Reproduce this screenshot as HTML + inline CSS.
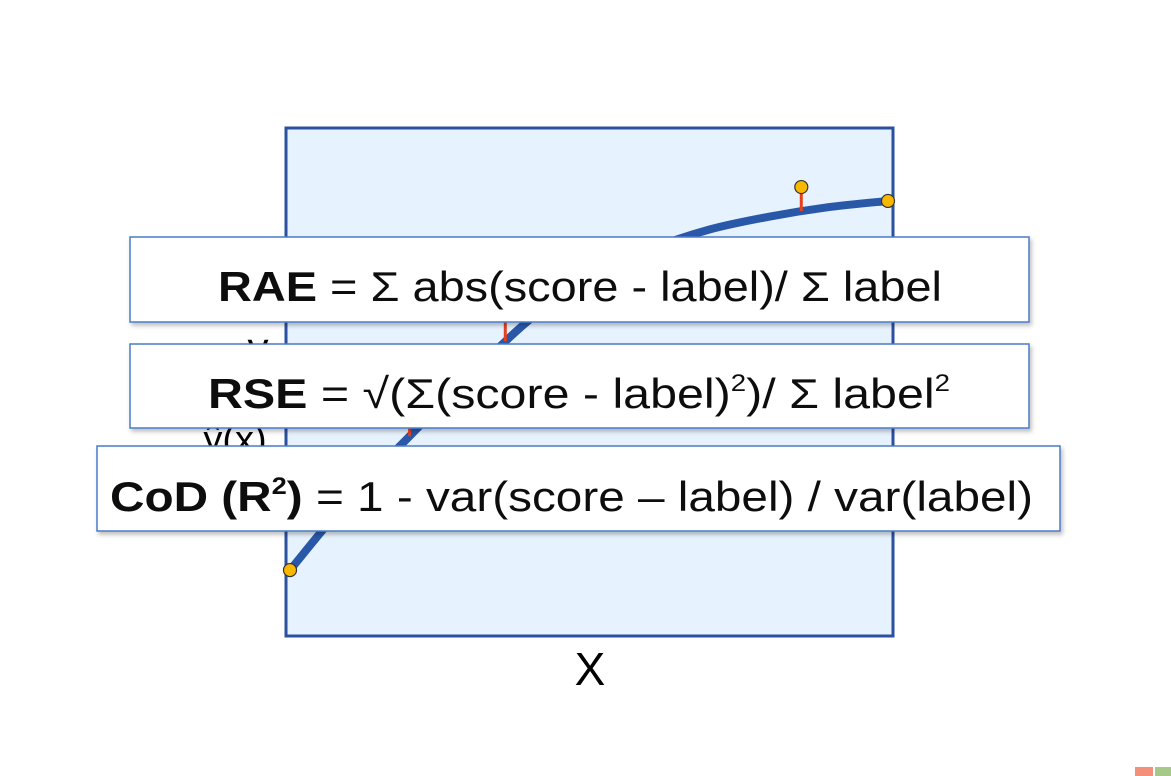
<!DOCTYPE html>
<html><head><meta charset="utf-8"><style>
html,body{margin:0;padding:0;background:#fff;}
svg{display:block;font-family:"Liberation Sans",sans-serif;}
</style></head><body>
<svg width="1171" height="776" viewBox="0 0 1171 776">
<defs>
<filter id="sh" x="-5%" y="-20%" width="110%" height="150%"><feDropShadow dx="2" dy="3" stdDeviation="2" flood-color="#000" flood-opacity="0.25"/></filter>
</defs>
<rect x="286" y="128" width="607" height="508" fill="#e6f2fd" stroke="#2b50a0" stroke-width="3"/>
<g id="marks"></g>
<text x="590" y="685" font-size="46" text-anchor="middle" fill="#000">X</text>
<text x="258" y="362" font-size="42" text-anchor="middle" fill="#000">y</text>
<text x="235" y="452" font-size="38" text-anchor="middle" fill="#000">ŷ(x)</text>

<g filter="url(#sh)">
<rect x="130" y="237" width="899" height="85" fill="#fff" stroke="#4a7bc8" stroke-width="1.5"/>
<text x="218" y="301" font-size="42" textLength="724" lengthAdjust="spacingAndGlyphs" fill="#111"><tspan font-weight="bold">RAE</tspan> = Σ abs(score - label)/ Σ label</text>
</g>
<g filter="url(#sh)">
<rect x="130" y="344" width="899" height="84" fill="#fff" stroke="#4a7bc8" stroke-width="1.5"/>
<text x="208" y="408" font-size="42" textLength="742" lengthAdjust="spacingAndGlyphs" fill="#111"><tspan font-weight="bold">RSE</tspan> = √(Σ(score - label)<tspan font-size="24" dy="-17">2</tspan><tspan dy="17">)/ Σ label</tspan><tspan font-size="24" dy="-17">2</tspan></text>
</g>
<g filter="url(#sh)">
<rect x="97" y="446" width="963" height="85" fill="#fff" stroke="#4a7bc8" stroke-width="1.5"/>
<text x="110" y="511" font-size="42" textLength="923" lengthAdjust="spacingAndGlyphs" fill="#111"><tspan font-weight="bold">CoD (R</tspan><tspan font-weight="bold" font-size="24" dy="-17">2</tspan><tspan font-weight="bold" dy="17">)</tspan> = 1 - var(score – label) / var(label)</text>
</g>
<rect x="1135" y="767" width="18" height="9" fill="#f4907a"/>
<rect x="1155" y="767" width="16" height="9" fill="#a6c98a"/>
</svg>
<script>
const curveX = [0,1,2,3,4,5,6,7,8,9,10];
const curveScore = [1.04,2.54,3.83,5.08,6.25,7.13,7.71,8.13,8.40,8.60,8.73];
const pointX = [0,2,3.6,8.55,10];
const pointLabel = [1.04,4.17,6.35,9.02,8.73];
const xs = v => 290 + v*59.8;
const ys = v => 620 - v*48;
const NS = "http://www.w3.org/2000/svg";
const g = document.getElementById('marks');
const P = curveX.map((x,i)=>[xs(x),ys(curveScore[i])]);
function segY(px){
  for(let i=0;i<P.length-1;i++){
    if(px<=P[i+1][0]){
      const p0=P[Math.max(0,i-1)],p1=P[i],p2=P[i+1],p3=P[Math.min(P.length-1,i+2)];
      const c1=[p1[0]+(p2[0]-p0[0])/6,p1[1]+(p2[1]-p0[1])/6], c2=[p2[0]-(p3[0]-p1[0])/6,p2[1]-(p3[1]-p1[1])/6];
      let lo=0,hi=1,t=0.5;
      const bx=t=>Math.pow(1-t,3)*p1[0]+3*Math.pow(1-t,2)*t*c1[0]+3*(1-t)*t*t*c2[0]+t*t*t*p2[0];
      for(let k=0;k<30;k++){t=(lo+hi)/2; if(bx(t)<px) lo=t; else hi=t;}
      return Math.pow(1-t,3)*p1[1]+3*Math.pow(1-t,2)*t*c1[1]+3*(1-t)*t*t*c2[1]+t*t*t*p2[1];
    }
  }
  return P[P.length-1][1];
}
let d = `M${P[0][0]},${P[0][1]}`;
for(let i=0;i<P.length-1;i++){
  const p0=P[Math.max(0,i-1)],p1=P[i],p2=P[i+1],p3=P[Math.min(P.length-1,i+2)];
  d += ` C${p1[0]+(p2[0]-p0[0])/6},${p1[1]+(p2[1]-p0[1])/6} ${p2[0]-(p3[0]-p1[0])/6},${p2[1]-(p3[1]-p1[1])/6} ${p2[0]},${p2[1]}`;
}
const path = document.createElementNS(NS,'path');
path.setAttribute('d',d);path.setAttribute('fill','none');path.setAttribute('stroke','#2a58a8');path.setAttribute('stroke-width','8');path.setAttribute('stroke-linecap','round');


g.appendChild(path);
pointX.forEach((x,i)=>{
  const cy = segY(xs(x)), ly = ys(pointLabel[i]);
  const ln = document.createElementNS(NS,'line');
  ln.setAttribute('x1',xs(x));ln.setAttribute('x2',xs(x));ln.setAttribute('y1',ly);ln.setAttribute('y2',cy);
  ln.setAttribute('stroke','#e8401c');ln.setAttribute('stroke-width','3');
  
  
  g.appendChild(ln);
  const c = document.createElementNS(NS,'circle');
  c.setAttribute('cx',xs(x));c.setAttribute('cy',ly);c.setAttribute('r','6.5');
  c.setAttribute('fill','#f8b800');c.setAttribute('stroke','#333');c.setAttribute('stroke-width','1.2');
  
  
  g.appendChild(c);
});
</script>
</body></html>
